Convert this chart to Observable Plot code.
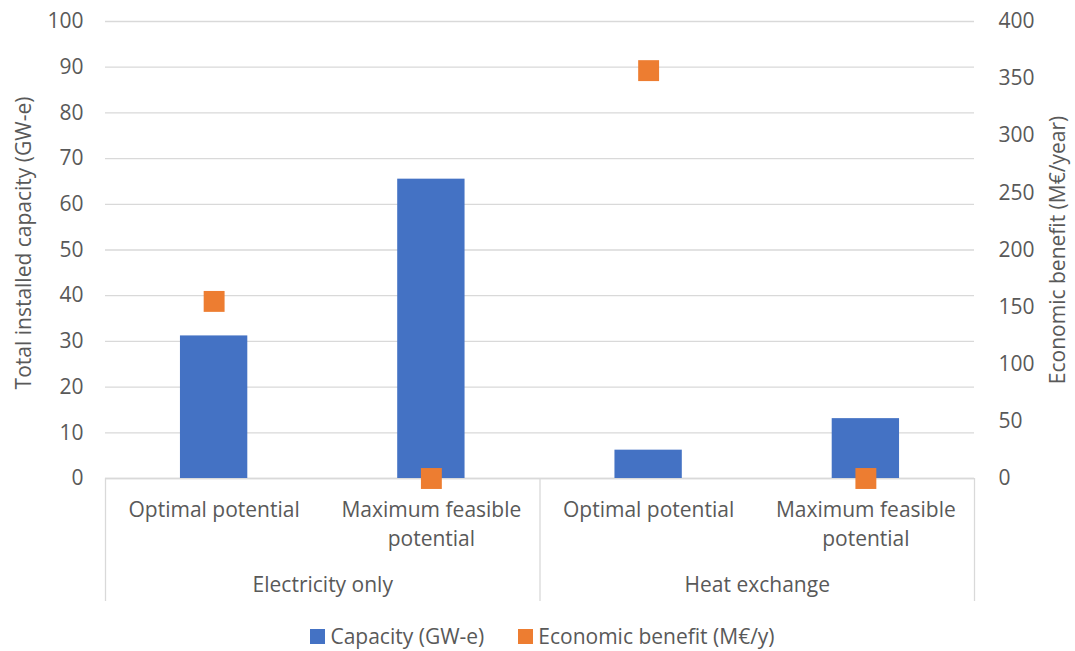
<!DOCTYPE html>
<html>
<head>
<meta charset="utf-8">
<script src="https://cdn.jsdelivr.net/npm/d3@7"></script>
<script src="https://cdn.jsdelivr.net/npm/@observablehq/plot@0.6"></script>
<style>
  html, body { margin: 0; padding: 0; background: #fff; }
  body { width: 1075px; font-family: "Open Sans", sans-serif; color: #595959; }
  #legend { display: flex; justify-content: center; align-items: center; gap: 34px; height: 44px; padding-top: 7px; font-size: 21px; margin-left: 10px; }
  #legend .item { display: flex; align-items: center; gap: 5px; }
  #legend .sw { width: 15px; height: 15px; display: inline-block; }
</style>
</head>
<body>
<div id="chart"></div>
<div id="legend"></div>
<script>
// Scenario groups and the scenarios within each group
const groups = ["Electricity only", "Electricity only", "Heat exchange", "Heat exchange"];
const scenarios = ["Optimal potential", "Maximum feasible\npotential", "Optimal potential", "Maximum feasible\npotential"];

// Series values
const capacity = [31.2, 65.5, 6.2, 13.1];   // GW-e (left axis)
const benefit = [155, 0, 357, 0];          // M€/year (right axis)

// Axis ticks
const leftTicks = [0, 10, 20, 30, 40, 50, 60, 70, 80, 90, 100];
const rightTicks = [0, 50, 100, 150, 200, 250, 300, 350, 400];

const seriesNames = ["Capacity (GW-e)", "Economic benefit (M€/y)"];
const colors = ["#4472C4", "#ED7D31"];

// The right axis spans 0–400 over the same height as the left 0–100
const ratio = 4;

const rows = scenarios.map((s, i) => ({
  i, group: groups[i], scenario: s, capacity: capacity[i], benefit: benefit[i]
}));

// Centre of each group along the category axis
const groupRows = Array.from(d3.group(rows, d => d.group), ([g, rs]) => ({
  group: g, center: d3.mean(rs, r => r.i + 0.5)
}));
// Group boundaries
const bounds = [0, ...groupRows.map((g, k) => d3.sum(groupRows.slice(0, k + 1), gg => rows.filter(r => r.group === gg.group).length))];

const halfBar = 0.155;
const fs = 21;
const textColor = "#595959";
const gridColor = "#d9d9d9";

const chart = Plot.plot({
  width: 1075,
  height: 607,
  marginLeft: 105,
  marginRight: 101,
  marginTop: 21,
  marginBottom: 129,
  style: { fontFamily: "Open Sans, sans-serif", fontSize: fs + "px", color: textColor, background: "#fff" },
  x: { domain: [0, rows.length], axis: null },
  y: { domain: [0, 100], axis: null },
  marks: [
    Plot.gridY(leftTicks, { stroke: gridColor, strokeOpacity: 1, strokeWidth: 1.3 }),
    Plot.axisY({ anchor: "left", ticks: leftTicks, tickSize: 0, tickPadding: 22, label: null, fill: textColor, fontSize: fs }),
    Plot.axisY({ anchor: "right", ticks: rightTicks.map(v => v / ratio), tickFormat: v => v * ratio, tickSize: 0, tickPadding: 24, label: null, fill: textColor, fontSize: fs }),
    Plot.text(["Total installed capacity (GW-e)"], { frameAnchor: "left", textAnchor: "middle", dx: -81, dy: -7, rotate: -90, fill: textColor, fontSize: fs }),
    Plot.text(["Economic benefit (M€/year)"], { frameAnchor: "right", textAnchor: "middle", dx: 84, dy: 0, rotate: -90, fill: textColor, fontSize: fs }),
    // Category axis box: group separators extending below the baseline
    Plot.ruleX(bounds, { y1: 0, y2: 0, insetBottom: -123, stroke: gridColor, strokeWidth: 1.3 }),
    Plot.ruleY([0], { stroke: gridColor, strokeWidth: 1.3 }),
    Plot.rectY(rows, { x1: d => d.i + 0.5 - halfBar, x2: d => d.i + 0.5 + halfBar, y: "capacity", fill: colors[0] }),
    Plot.dot(rows, { x: d => d.i + 0.5, y: d => d.benefit / ratio, symbol: "square", r: 11.8, fill: colors[1], stroke: null }),
    Plot.text(rows, { x: d => d.i + 0.5, y: 0, text: "scenario", lineAnchor: "top", dy: 18, lineHeight: 1.37, fill: textColor, fontSize: fs }),
    Plot.text(groupRows, { x: "center", y: 0, text: "group", lineAnchor: "top", dy: 99, fill: textColor, fontSize: fs })
  ]
});
document.getElementById("chart").append(chart);

// Legend below the chart
const legend = d3.select("#legend");
seriesNames.forEach((name, k) => {
  const item = legend.append("div").attr("class", "item");
  item.append("span").attr("class", "sw").style("background", colors[k]);
  item.append("span").text(name);
});
</script>
</body>
</html>
